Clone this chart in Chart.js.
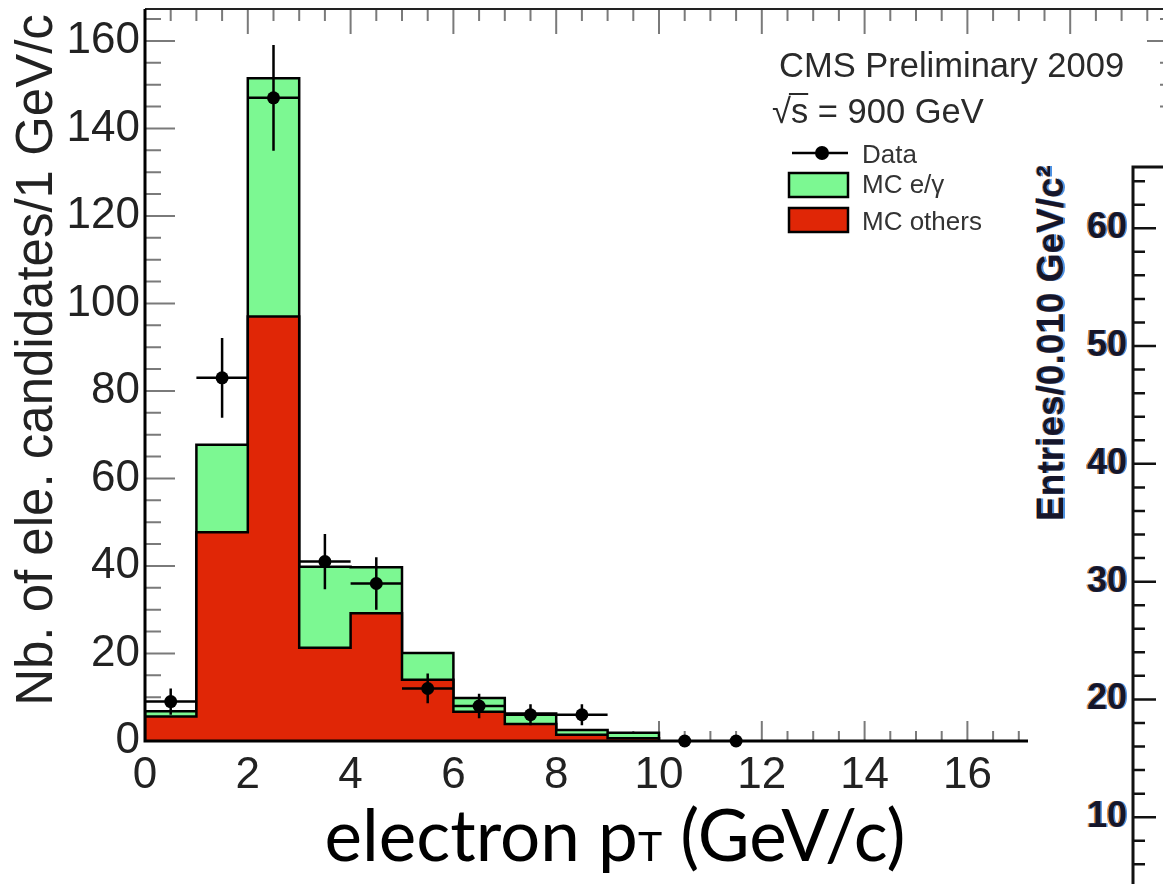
<!DOCTYPE html>
<html>
<head>
<meta charset="utf-8">
<title>electron pT</title>
<script src="https://cdn.jsdelivr.net/npm/chart.js@4.4.1/dist/chart.umd.min.js"></script>
<style>
  html, body { margin: 0; padding: 0; background: #fff; overflow: hidden; }
  #wrap { position: relative; width: 1163px; height: 884px; overflow: hidden; background: #fff; }
  #ptChart { position: absolute; left: 0; top: 0; }
  #side { position: absolute; left: 1028px; top: 115px; width: 160px; height: 830px; background: #fff; }
</style>
</head>
<body>
<div id="wrap">
  <canvas id="ptChart" width="1180" height="884"></canvas>
  <div id="side"><canvas id="entriesChart" width="160" height="830"></canvas></div>
</div>
<script>
// ---- histogram contents, 1 GeV/c bins ----
const binLow = [0, 1, 2, 3, 4, 5, 6, 7, 8, 9];
const mcOthers = [5.6, 47.7, 97.0, 21.3, 29.2, 14.0, 6.7, 3.9, 1.4, 0.6];
const mcEgamma = [1.2, 20.0, 54.5, 18.5, 10.5, 6.1, 3.1, 2.4, 1.1, 1.3];

// ---- data points ----
const dataPt = [0.5, 1.5, 2.5, 3.5, 4.5, 5.5, 6.5, 7.5, 8.5, 10.5, 11.5];
const dataCounts = [9, 83, 147, 41, 36, 12, 8, 6, 6, 0, 0];
const dataErrors = [3.0, 9.1, 12.1, 6.3, 6.0, 3.4, 2.8, 2.4, 2.4, 0, 0];

// ---- axis labels ----
const xTickLabels = [0, 2, 4, 6, 8, 10, 12, 14, 16];
const yTickLabels = [0, 20, 40, 60, 80, 100, 120, 140, 160];
const entriesTicks = [10, 20, 30, 40, 50, 60];

const GREEN = '#7cf892';
const RED = '#e02606';
const SANS = '"Liberation Sans", Arial, Helvetica, sans-serif';

// outline of a histogram as a stepped path, closed down to zero at both ends
function stepPoints(heights) {
  const pts = [{ x: binLow[0], y: 0 }];
  heights.forEach((h, i) => pts.push({ x: binLow[i], y: h }));
  pts.push({ x: binLow[binLow.length - 1] + 1, y: 0 });
  return pts;
}
const mcTotal = mcOthers.map((v, i) => v + mcEgamma[i]);

// keep the plot frame where it is: no extra room for half labels
function noLabelPadding(s) {
  s.paddingTop = 0;
  s.paddingBottom = 0;
  s.paddingLeft = 0;
  s.paddingRight = 0;
}

// ticks inside the frame (ROOT style), drawn under the histograms
const frameTicks = {
  id: 'frameTicks',
  beforeDatasetsDraw(chart) {
    const { ctx, chartArea: a, scales: { x, y } } = chart;
    ctx.save();
    ctx.strokeStyle = '#7a7a7a';
    ctx.lineWidth = 2;
    ctx.beginPath();
    for (let v = 0; v <= 20; v += 0.5) {
      const px = x.getPixelForValue(v);
      const major = v % 2 === 0;
      ctx.moveTo(px, a.bottom); ctx.lineTo(px, a.bottom - (major ? 20 : 10));
      ctx.moveTo(px, a.top); ctx.lineTo(px, a.top + (major ? 25 : 12));
    }
    for (let v = 0; v <= 165; v += 5) {
      const py = y.getPixelForValue(v);
      const major = v % 20 === 0;
      ctx.moveTo(a.left, py); ctx.lineTo(a.left + (major ? 30 : 16), py);
      ctx.moveTo(a.right, py); ctx.lineTo(a.right - (major ? 26 : 13), py);
    }
    ctx.stroke();
    ctx.restore();
  },
  afterDatasetsDraw(chart) {
    const { ctx, chartArea: a, scales: { x, y } } = chart;
    ctx.save();
    // error bars on the data
    ctx.strokeStyle = '#000';
    ctx.lineWidth = 2.5;
    ctx.beginPath();
    dataPt.forEach((pt, i) => {
      const err = dataErrors[i];
      if (!err) return;
      const px = x.getPixelForValue(pt);
      const py = y.getPixelForValue(dataCounts[i]);
      ctx.moveTo(x.getPixelForValue(pt - 0.5), py);
      ctx.lineTo(x.getPixelForValue(pt + 0.5), py);
      ctx.moveTo(px, y.getPixelForValue(dataCounts[i] - err));
      ctx.lineTo(px, y.getPixelForValue(dataCounts[i] + err));
    });
    ctx.stroke();
    // frame
    ctx.strokeStyle = '#222';
    ctx.lineWidth = 2;
    ctx.beginPath();
    ctx.moveTo(a.left, a.top); ctx.lineTo(a.right, a.top); ctx.lineTo(a.right, a.bottom);
    ctx.stroke();
    ctx.strokeStyle = '#000';
    ctx.lineWidth = 3;
    ctx.beginPath();
    ctx.moveTo(a.left, a.top); ctx.lineTo(a.left, a.bottom); ctx.lineTo(a.right, a.bottom);
    ctx.stroke();
    ctx.restore();
  },
  afterDraw(chart) {
    const ctx = chart.ctx;
    ctx.save();
    ctx.fillStyle = '#222';

    // y title
    ctx.save();
    ctx.font = '51px ' + SANS;
    ctx.translate(52, 360);
    ctx.rotate(-Math.PI / 2);
    ctx.textAlign = 'center';
    ctx.textBaseline = 'alphabetic';
    ctx.fillText('Nb. of ele. candidates/1 GeV/c', 0, 0);
    ctx.restore();

    // x title: electron p_T (GeV/c)
    const big = '71px Lato, "Open Sans", sans-serif';
    const small = '41px Lato, "Open Sans", sans-serif';
    const parts = [['electron p', big], ['T', small], [' (GeV/c)', big]];
    let total = 0;
    parts.forEach(([s, f]) => { ctx.font = f; total += ctx.measureText(s).width; });
    let tx = 615 - total / 2;
    ctx.fillStyle = '#000';
    ctx.textBaseline = 'alphabetic';
    ctx.textAlign = 'left';
    parts.forEach(([s, f]) => { ctx.font = f; ctx.fillText(s, tx, 861); tx += ctx.measureText(s).width; });

    // header text
    ctx.fillStyle = '#2a2a2a';
    ctx.font = '34.5px ' + SANS;
    ctx.fillText('CMS Preliminary 2009', 779, 77);
    ctx.fillText('\u221As = 900 GeV', 772, 123);
    const rootW = ctx.measureText('\u221A').width;
    const sW = ctx.measureText('s').width;
    ctx.strokeStyle = '#2a2a2a';
    ctx.lineWidth = 2;
    ctx.beginPath();
    ctx.moveTo(772 + rootW - 2, 94); ctx.lineTo(772 + rootW + sW, 94);
    ctx.stroke();

    // legend
    ctx.font = '26px ' + SANS;
    ctx.fillStyle = '#333';
    ctx.fillText('Data', 862, 163);
    ctx.fillText('MC e/\u03B3', 862, 193);
    ctx.fillText('MC others', 862, 230);
    ctx.strokeStyle = '#000';
    ctx.lineWidth = 2.5;
    ctx.beginPath();
    ctx.moveTo(792, 153); ctx.lineTo(848, 153);
    ctx.stroke();
    ctx.fillStyle = '#000';
    ctx.beginPath();
    ctx.arc(822, 153, 7, 0, Math.PI * 2);
    ctx.fill();
    [[GREEN, 173], [RED, 208]].forEach(([c, top]) => {
      ctx.fillStyle = c;
      ctx.fillRect(789, top, 59, 24);
      ctx.strokeRect(789, top, 59, 24);
    });
    ctx.restore();
  }
};

new Chart(document.getElementById('ptChart'), {
  type: 'line',
  data: {
    datasets: [
      {
        label: 'Data',
        data: dataPt.map((x, i) => ({ x: x, y: dataCounts[i] })),
        showLine: false,
        pointRadius: 6.5,
        pointBackgroundColor: '#000',
        pointBorderColor: '#000',
        pointBorderWidth: 0,
        clip: false,
        order: 1
      },
      {
        label: 'MC others',
        data: stepPoints(mcOthers),
        stepped: 'before',
        fill: 'origin',
        backgroundColor: RED,
        borderColor: '#000',
        borderWidth: 2.5,
        pointRadius: 0,
        order: 2
      },
      {
        label: 'MC e/\u03B3',
        data: stepPoints(mcTotal),
        stepped: 'before',
        fill: 'origin',
        backgroundColor: GREEN,
        borderColor: '#000',
        borderWidth: 2.5,
        pointRadius: 0,
        order: 3
      }
    ]
  },
  options: {
    responsive: false,
    animation: false,
    layout: { padding: { top: 9, right: 7, left: 0, bottom: 0 } },
    plugins: {
      legend: { display: false },
      tooltip: { enabled: false }
    },
    scales: {
      x: {
        type: 'linear',
        min: 0,
        max: 20,
        grid: { display: false, drawTicks: false },
        border: { display: false },
        ticks: { font: { size: 44, family: SANS }, color: '#222', padding: 8, maxRotation: 0, autoSkip: false },
        afterBuildTicks: s => { s.ticks = xTickLabels.map(v => ({ value: v })); },
        afterFit: s => { noLabelPadding(s); s.height = 143; }
      },
      y: {
        type: 'linear',
        min: 0,
        max: 167.3,
        grid: { display: false, drawTicks: false },
        border: { display: false },
        ticks: { font: { size: 44, family: SANS }, color: '#222', padding: 5 },
        afterBuildTicks: s => { s.ticks = yTickLabels.map(v => ({ value: v })); },
        afterFit: s => { noLabelPadding(s); s.width = 145; }
      }
    }
  },
  plugins: [frameTicks]
});

// text with the colour fringes of the scanned neighbour panel
function fringeText(ctx, s, x, y, dx, dy) {
  ctx.fillStyle = 'rgba(226,128,36,0.85)';
  ctx.fillText(s, x - dx, y - dy);
  ctx.fillStyle = 'rgba(46,126,220,0.85)';
  ctx.fillText(s, x + dx, y + dy);
  ctx.fillStyle = '#15152a';
  ctx.fillText(s, x, y);
}

const entriesAxis = {
  id: 'entriesAxis',
  afterDraw(chart) {
    const { ctx, chartArea: a, scales: { y } } = chart;
    ctx.save();
    ctx.strokeStyle = '#111';
    ctx.lineWidth = 3;
    ctx.beginPath();
    ctx.moveTo(a.left, chart.height); ctx.lineTo(a.left, a.top); ctx.lineTo(chart.width, a.top);
    ctx.stroke();
    ctx.lineWidth = 2.5;
    ctx.beginPath();
    for (let v = 0; v <= 65; v += 2) {
      const py = y.getPixelForValue(v);
      ctx.moveTo(a.left, py);
      ctx.lineTo(a.left + (v % 10 === 0 ? 23 : 12), py);
    }
    ctx.stroke();

    ctx.font = 'bold 36px ' + SANS;
    ctx.textAlign = 'right';
    ctx.textBaseline = 'middle';
    entriesTicks.forEach(v => fringeText(ctx, String(v), a.left - 6, y.getPixelForValue(v), 1.5, 0));

    ctx.translate(35, 228);
    ctx.rotate(-Math.PI / 2);
    ctx.textAlign = 'center';
    ctx.textBaseline = 'alphabetic';
    ctx.font = 'bold 37px ' + SANS;
    fringeText(ctx, 'Entries/0.010 GeV/c\u00B2', 0, 0, 0, 1.5);
    ctx.restore();
  }
};

new Chart(document.getElementById('entriesChart'), {
  type: 'scatter',
  data: { datasets: [] },
  options: {
    responsive: false,
    animation: false,
    layout: { padding: { top: 52, bottom: 10, left: 0, right: 0 } },
    plugins: { legend: { display: false }, tooltip: { enabled: false } },
    scales: {
      x: { display: false, min: 0, max: 1 },
      y: {
        min: 0,
        max: 65.2,
        grid: { display: false },
        border: { display: false },
        ticks: { display: false },
        afterFit: s => { noLabelPadding(s); s.width = 105; }
      }
    }
  },
  plugins: [entriesAxis]
});
</script>
</body>
</html>
